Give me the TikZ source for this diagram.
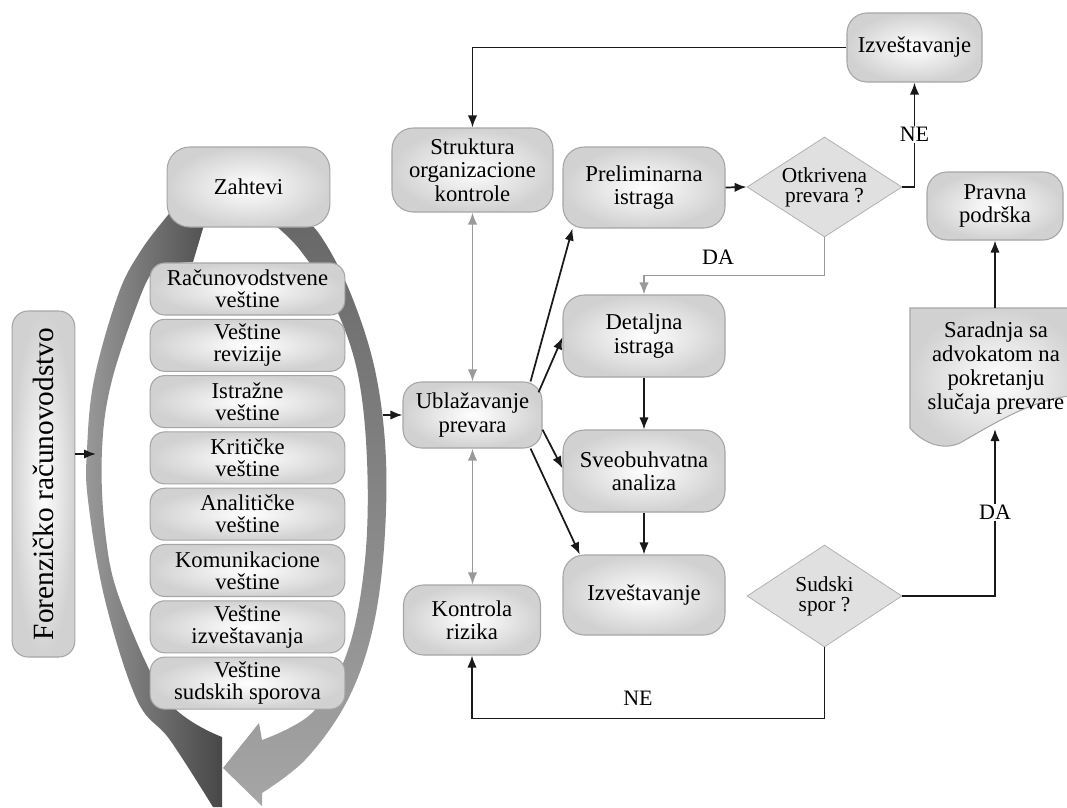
\documentclass[tikz,border=0pt]{standalone}
\usepackage{fontspec}
\setmainfont{Liberation Serif}
\usetikzlibrary{shapes.geometric,arrows.meta,calc}
\tikzset{
  box/.style={draw=black!35, line width=0.8pt, rounded corners=14pt, inner color=white, outer color=black!18,
    align=center, inner sep=1pt, font=\fontsize{17}{17.5}\selectfont},
  skill/.style={box, minimum width=146pt, minimum height=39pt, rounded corners=11pt, font=\fontsize{17}{16.5}\selectfont},
  dia/.style={diamond, draw=black!30, fill=black!12, line width=0.6pt, inner sep=0pt},
  arr/.style={draw=black!90, line width=1.3pt, -{Latex[length=9pt,width=7pt]}},
  garr/.style={draw=black!40, line width=1.2pt, {Latex[length=9pt,width=7pt]}-{Latex[length=9pt,width=7pt]}},
  garrone/.style={draw=black!40, line width=1.2pt, -{Latex[length=9pt,width=7pt]}},
  lbl/.style={font=\fontsize{16.5}{16.5}\selectfont, inner sep=1pt},
  dtext/.style={align=center, font=\fontsize{16}{15}\selectfont}
}
\begin{document}
\begin{tikzpicture}[x=0.75pt,y=-0.75pt]
\useasboundingbox (0,0) rectangle (1067,807);
\clip (0,0) rectangle (1067,807);
\fill[white] (0,0) rectangle (1067,807);

% big curved arrows
\shade[left color=black!40, right color=black!72]
  plot[smooth, tension=0.6] coordinates {(213,807) (170,740) (137,700) (105,600) (88,500) (87,450) (94,380) (118,295) (140,252) (168,215) (185,196)}
  -- (215,188) -- (193,262) -- (158,264)
  -- plot[smooth, tension=0.6] coordinates {(158,264) (142,292) (112,380) (102,450) (105,530) (120,600) (167,700) (222,737)}
  -- (222,807) -- cycle;
\shade[top color=black!60, bottom color=black!35]
  plot[smooth, tension=0.6] coordinates {(290,205) (320,235) (350,292) (375,370) (386,460) (383,560) (370,640) (345,705) (305,760) (262,793)}
  -- (262,806) -- (223,768) -- (259,723) -- (262,740)
  -- plot[smooth, tension=0.6] coordinates {(262,740) (313,712) (348,650) (365,560) (367,460) (357,370) (332,300) (300,250) (272,222) (262,210)}
  -- cycle;

% left part
\node[box, rotate=90, minimum width=259.5pt, minimum height=47pt, rounded corners=12pt, font=\fontsize{22}{22}\selectfont] (for) at (43.5,484) {Forenzičko računovodstvo};
\node[box, minimum width=122pt, minimum height=60pt, rounded corners=17pt] (zah) at (248.5,187) {Zahtevi};
\node[skill] (s1) at (247.5,289) {Računovodstvene\\veštine};
\node[skill] (s2) at (247.5,345.3) {Veštine\\revizije};
\node[skill] (s3) at (247.5,401.6) {Istražne\\veštine};
\node[skill] (s4) at (247.5,457.9) {Kritičke\\veštine};
\node[skill] (s5) at (247.5,514.2) {Analitičke\\veštine};
\node[skill] (s6) at (247.5,570.5) {Komunikacione\\veštine};
\node[skill] (s7) at (247.5,626.8) {Veštine\\izveštavanja};
\node[skill] (s8) at (247.5,683.1) {Veštine\\sudskih sporova};

\coordinate (larc) at (96,454);
\coordinate (rarc) at (383,415);

% right part
\node[box, minimum width=120.75pt, minimum height=63pt, rounded corners=16pt] (str) at (472.5,170) {Struktura\\organizacione\\kontrole};
\node[box, minimum width=121.5pt, minimum height=60.75pt, rounded corners=16pt] (pre) at (644,187.5) {Preliminarna\\istraga};
\node[box, minimum width=101.25pt, minimum height=51.75pt, rounded corners=15pt] (izv1) at (914.5,47.5) {Izveštavanje};
\node[dia, minimum width=116.25pt, minimum height=75pt, label={[dtext]center:Otkrivena\\prevara ?}] (otk) at (824.5,187) {};
\node[box, minimum width=102pt, minimum height=51pt, rounded corners=15pt] (pra) at (995,206) {Pravna\\podrška};
\node[box, minimum width=104.25pt, minimum height=49.5pt, rounded corners=14pt] (ubl) at (472.5,415) {Ublažavanje\\prevara};
\node[box, minimum width=121.5pt, minimum height=61.5pt, rounded corners=16pt] (det) at (644,336) {Detaljna\\istraga};
\node[box, minimum width=121.5pt, minimum height=61.5pt, rounded corners=16pt] (sve) at (644,471) {Sveobuhvatna\\analiza};
\node[box, minimum width=121.5pt, minimum height=60pt, rounded corners=16pt] (izv2) at (644,595) {Izveštavanje};
\node[box, minimum width=102.75pt, minimum height=52.5pt, rounded corners=15pt] (kon) at (472,620) {Kontrola\\rizika};
\node[dia, minimum width=116.25pt, minimum height=76.5pt, label={[dtext]center:Sudski\\spor ?}] (sud) at (824.5,596) {};

% document shape
\shade[draw=black!35, line width=0.8pt, inner color=white, outer color=black!18]
  (910,308) -- (1085,308) -- (1085,395)
  .. controls (1040,395) and (1000,420) .. (960,443)
  .. controls (940,452) and (920,440) .. (910,428) -- cycle;
\node[align=center, font=\fontsize{17}{18}\selectfont] (doc) at (996,368) {Saradnja sa\\advokatom na\\pokretanju\\slučaja prevare};
\coordinate (doctop) at (995,308);
\coordinate (docbot) at (995,429);

% connectors
\draw[arr] (for.south |- larc) -- (larc);
\draw[arr] (rarc) -- (ubl.west);
\draw[arr] (izv1.west) -| (str.north);
\draw[arr] (pre.east) -- (otk.west);
\draw[arr] (otk.east) -| node[lbl, pos=0.75, fill=white] (ne1) {NE} (izv1.south);
\draw[garrone] (otk.south) -- ($(otk.south)+(0,38)$) -| (det.north);
\node[lbl] (da1) at (718,257) {DA};
\draw[garr] (str.south) -- (str.south |- ubl.north);
\draw[garr] (ubl.south) -- (ubl.south |- kon.north);
\draw[arr] ([xshift=-9pt]ubl.north east) -- ([xshift=7.5pt]pre.south west);
\draw[arr] ([xshift=-3pt,yshift=17pt]ubl.east) -- ([yshift=-1pt]det.west);
\draw[arr] ([yshift=-11pt]ubl.east) -- ([yshift=2pt]sve.west);
\draw[arr] ([xshift=-9pt]ubl.south east) -- ([xshift=13pt]izv2.north west);
\draw[arr] (det.south) -- (sve.north);
\draw[arr] (sve.south) -- (izv2.north);
\draw[arr] (sud.east) -| node[lbl, pos=0.75, fill=white] (da2) {DA} (docbot);
\draw[arr] (doctop) -- (pra.south);
\draw[arr] (sud.south) -- ($(sud.south)+(0,71)$) -| (kon.south);
\node[lbl] (ne2) at (638,698) {NE};
\end{tikzpicture}
\end{document}
